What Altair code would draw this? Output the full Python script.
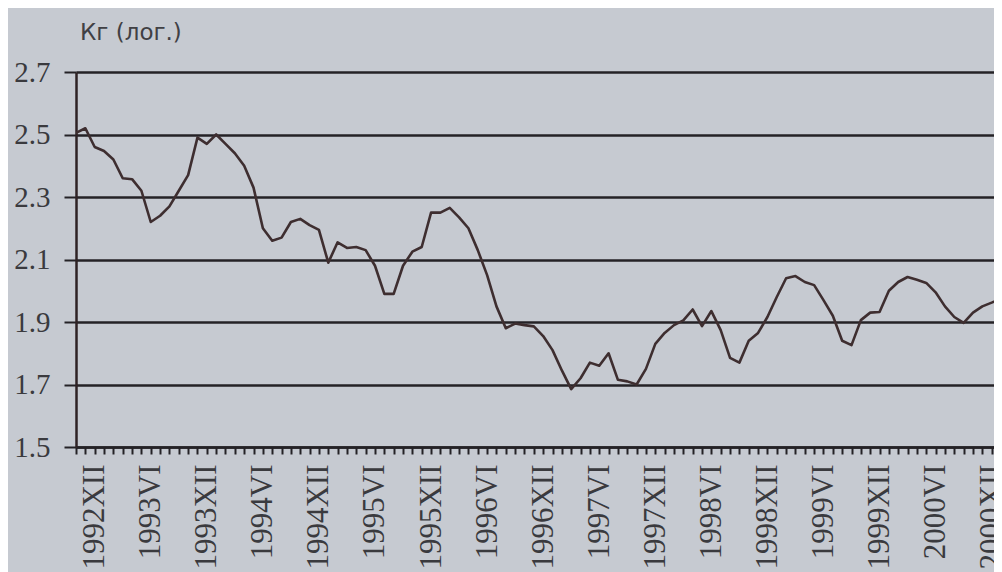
import altair as alt
import pandas as pd

# Monthly values, starting 1992 X (index 0), Kg (log)
kg_log = [
    2.505, 2.52, 2.46, 2.447, 2.42, 2.36, 2.357, 2.32, 2.22, 2.24,
    2.27, 2.32, 2.37, 2.49, 2.47, 2.50, 2.47, 2.44, 2.40, 2.33,
    2.20, 2.16, 2.17, 2.22, 2.23, 2.21, 2.195, 2.09, 2.155, 2.137,
    2.14, 2.13, 2.08, 1.99, 1.99, 2.08, 2.125, 2.14, 2.25, 2.25,
    2.265, 2.235, 2.20, 2.13, 2.05, 1.95, 1.88, 1.895, 1.89, 1.886,
    1.855, 1.81, 1.745, 1.685, 1.72, 1.77, 1.76, 1.80, 1.715, 1.71,
    1.70, 1.75, 1.83, 1.865, 1.89, 1.905, 1.94, 1.887, 1.935, 1.874,
    1.785, 1.77, 1.84, 1.865, 1.916, 1.98, 2.04, 2.047, 2.028, 2.018,
    1.97, 1.92, 1.84, 1.826, 1.906, 1.93, 1.932, 2.00, 2.028, 2.044,
    2.035, 2.025, 1.995, 1.95, 1.916, 1.897, 1.93, 1.95, 1.962, 1.975,
]
month_index = list(range(len(kg_log)))

tick_labels = [
    "1992XII", "1993VI", "1993XII", "1994VI", "1994XII", "1995VI",
    "1995XII", "1996VI", "1996XII", "1997VI", "1997XII", "1998VI",
    "1998XII", "1999VI", "1999XII", "2000VI", "2000XII",
]
first_label_index = 2   # 1992 XII
label_step = 6          # every half year
y_ticks = [1.5, 1.7, 1.9, 2.1, 2.3, 2.5, 2.7]

df = pd.DataFrame({"m": month_index, "v": kg_log})

labels_js = "[" + ",".join("'" + s + "'" for s in tick_labels) + "]"
label_expr = (
    f"(datum.value - {first_label_index}) % {label_step} == 0 && datum.value >= {first_label_index} "
    f"? {labels_js}[(datum.value - {first_label_index}) / {label_step}] : ''"
)

ink = "#242226"
text_col = "#3a3a3e"

chart = (
    alt.Chart(df)
    .mark_line(color="#3e2e30", strokeWidth=2.6, strokeJoin="round", strokeCap="round", clip=True)
    .encode(
        x=alt.X(
            "m:Q",
            scale=alt.Scale(domain=[0, 98.25], nice=False, zero=False),
            axis=alt.Axis(
                values=list(range(0, 99)),
                labelExpr=label_expr,
                labelAngle=-90,
                labelFont="Liberation Serif",
                labelFontSize=31,
                labelColor=text_col,
                labelPadding=10,
                labelOverlap=False,
                labelFlush=False,
                labelBound=False,
                tickSize=7,
                tickWidth=2,
                tickColor=ink,
                domainColor=ink,
                domainWidth=2.5,
                grid=False,
                title=None,
            ),
        ),
        y=alt.Y(
            "v:Q",
            scale=alt.Scale(domain=[1.5, 2.7], nice=False, zero=False),
            axis=alt.Axis(
                values=y_ticks,
                format=".1f",
                labelFont="Liberation Serif",
                labelFontSize=29,
                labelColor=text_col,
                labelPadding=14,
                tickSize=12,
                tickWidth=2,
                tickColor=ink,
                domainColor="#2e2224",
                domainWidth=2.5,
                grid=True,
                gridColor=ink,
                gridWidth=2.6,
                title=None,
            ),
        ),
    )
    .properties(
        width=918,
        height=375,
        padding={"left": 68, "top": 64, "right": 0, "bottom": 125},
        autosize=alt.AutoSizeParams(type="none"),
        background="#c6cad1",
        title=alt.TitleParams(
            text="Кг (лог.)",
            anchor="start",
            frame="group",
            font="DejaVu Sans",
            fontSize=23,
            fontWeight="normal",
            color="#404044",
            dx=4,
            offset=-5,
            baseline="alphabetic",
        ),
    )
    .configure_view(strokeWidth=0)
)

chart.save("out.html", embed_options={"renderer": "svg", "actions": False})
